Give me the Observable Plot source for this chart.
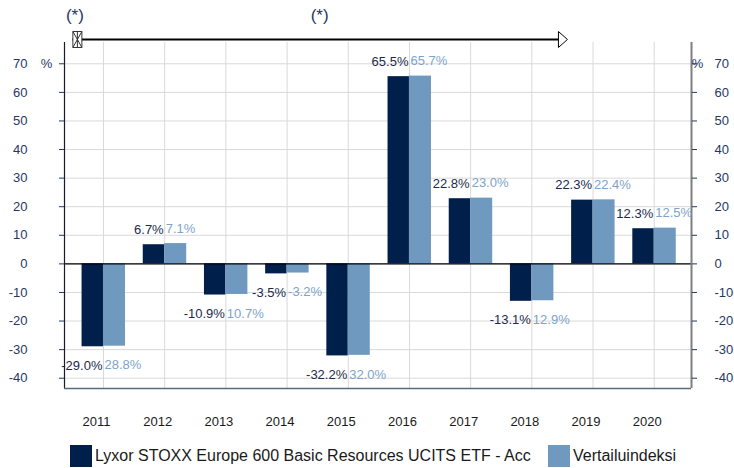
<!DOCTYPE html>
<html>
<head>
<meta charset="utf-8">
<script src="https://cdn.jsdelivr.net/npm/d3@7"></script>
<script src="https://cdn.jsdelivr.net/npm/@observablehq/plot@0.6"></script>
<style>
  html, body { margin: 0; padding: 0; background: #fff; }
  body { width: 734px; height: 468px; overflow: hidden; font-family: "Liberation Sans", Arial, sans-serif; }
  #legend { position: relative; height: 27px; }
  .item { position: absolute; top: 4px; display: flex; align-items: center; height: 22px; font-size: 16px; color: #1a1a1a; white-space: nowrap; }
  .sw { width: 22px; height: 22px; margin-right: 3px; }
</style>
</head>
<body>
<div id="chart"></div>
<div id="legend"></div>
<script>
// ---- data ----
const years = ["2011", "2012", "2013", "2014", "2015", "2016", "2017", "2018", "2019", "2020"];
const fundReturns = [-29.0, 6.7, -10.9, -3.5, -32.2, 65.5, 22.8, -13.1, 22.3, 12.3];
const indexReturns = [-28.8, 7.1, -10.7, -3.2, -32.0, 65.7, 23.0, -12.9, 22.4, 12.5];
// labels of the benchmark as they appear (minus hidden by overlap)
const indexLabels = ["28.8%", "7.1%", "10.7%", "-3.2%", "32.0%", "65.7%", "23.0%", "12.9%", "22.4%", "12.5%"];
const yTicks = [-40, -30, -20, -10, 0, 10, 20, 30, 40, 50, 60, 70];
const seriesNames = ["Lyxor STOXX Europe 600 Basic Resources UCITS ETF - Acc", "Vertailuindeksi"];
const seriesColors = ["#001f4b", "#7099c0"];
const periodFrom = "2011", periodTo = "2018";
const periodMark = "(*)";

// ---- layout helpers ----
const xDomain = [-0.637, 9.609];
const yDomain = [-43.6, 77.45];
const arrowLevel = 78.5, starLevel = 86.9;
const tickColor = "#1f3864";

const rows = years.map((y, i) => ({
  i, year: y,
  fund: fundReturns[i], index: indexReturns[i],
  fundLabel: fundReturns[i].toFixed(1) + "%",
  indexLabel: indexLabels[i]
}));

const ps = years.indexOf(periodFrom) - 0.5;
const pe = years.indexOf(periodTo) + 0.5;

const triRight = { draw(ctx) { ctx.moveTo(-4, -8); ctx.lineTo(5, 0); ctx.lineTo(-4, 8); ctx.closePath(); } };
const startMark = { draw(ctx) {
  ctx.moveTo(0, -8); ctx.lineTo(9, -8); ctx.lineTo(9, 8); ctx.lineTo(0, 8); ctx.closePath();
  ctx.moveTo(0, -8); ctx.lineTo(9, 8); ctx.moveTo(9, -8); ctx.lineTo(0, 8);
  ctx.moveTo(4.5, -8); ctx.lineTo(4.5, 8);
} };

const chart = Plot.plot({
  width: 734, height: 441,
  marginLeft: 64, marginRight: 43, marginTop: 42, marginBottom: 53,
  x: { domain: xDomain, axis: null, label: null },
  y: { domain: yDomain, axis: null, label: null },
  style: { fontFamily: "'Liberation Sans', Arial, sans-serif", fontSize: "13px", background: "white", overflow: "visible" },
  marks: [
    Plot.ruleX(rows, { x: "i", stroke: "#d9d9d9" }),
    Plot.ruleY(yTicks, { stroke: "#d9d9d9" }),
    Plot.rectY(rows, { x1: d => d.i - 0.35, x2: d => d.i, y: "fund", fill: seriesColors[0] }),
    Plot.rectY(rows, { x1: d => d.i, x2: d => d.i + 0.36, y: "index", fill: seriesColors[1] }),
    Plot.ruleY([0], { stroke: "#000", strokeWidth: 1.2 }),
    Plot.ruleX([xDomain[0]], { stroke: "#1a1a2a", strokeWidth: 1.2 }),
    Plot.ruleX([xDomain[1]], { stroke: "#7f7f7f", strokeWidth: 2 }),
    Plot.ruleY([yDomain[0]], { stroke: "#5a6a84", strokeWidth: 1.5 }),
    // value labels
    Plot.text(rows.filter(d => d.fund >= 0), { x: "i", y: "fund", text: "fundLabel", textAnchor: "end", dx: -1, dy: -15, fill: "#1c2a4a" }),
    Plot.text(rows.filter(d => d.fund < 0), { x: "i", y: "fund", text: "fundLabel", textAnchor: "end", dx: -1, dy: 19, fill: "#1c2a4a" }),
    Plot.text(rows.filter(d => d.index >= 0), { x: "i", y: "index", text: "indexLabel", textAnchor: "start", dx: 1, dy: -15, fill: "#7ea3c9" }),
    Plot.text(rows.filter(d => d.index < 0), { x: "i", y: "index", text: "indexLabel", textAnchor: "start", dx: 1, dy: 19, fill: "#7ea3c9" }),
    // axes
    Plot.axisY({ anchor: "left", ticks: yTicks, tickFormat: d => String(d), tickSize: 5, tickPadding: 32, color: tickColor, fontSize: 13, label: null }),
    Plot.axisY({ anchor: "right", ticks: yTicks, tickFormat: d => String(d), tickSize: 5, tickPadding: 18, textAnchor: "start", color: tickColor, fontSize: 13, label: null }),
    Plot.axisX({ ticks: rows.map(d => d.i), tickFormat: i => years[i], tickSize: 0, tickPadding: 28, dx: -7, color: "#1a1a1a", fontSize: 13, label: null }),
    Plot.text(["%"], { x: xDomain[0], y: 70, dx: -18, fill: tickColor, fontSize: 13 }),
    Plot.text(["%"], { x: xDomain[1], y: 70, dx: 6, fill: tickColor, fontSize: 13 }),
    // period annotation
    Plot.ruleY([arrowLevel], { x1: ps, x2: pe, stroke: "#000", strokeWidth: 2 }),
    Plot.dot([pe], { x: d => d, y: arrowLevel, symbol: triRight, fill: "#fff", stroke: "#000", strokeWidth: 1 }),
    Plot.dot([ps], { x: d => d, y: arrowLevel, symbol: startMark, fill: "#fff", stroke: "#333", strokeWidth: 1 }),
    Plot.text([ps, (ps + pe) / 2], { x: d => d, y: starLevel, text: () => periodMark, dx: 2, fill: tickColor, fontSize: 17 })
  ]
});
document.getElementById("chart").appendChild(chart);

const legend = document.getElementById("legend");
const lefts = [70, 548];
seriesNames.forEach((name, k) => {
  const it = document.createElement("div");
  it.className = "item";
  it.style.left = lefts[k] + "px";
  it.innerHTML = `<div class="sw" style="background:${seriesColors[k]}"></div><span>${name}</span>`;
  legend.appendChild(it);
});
</script>
</body>
</html>
